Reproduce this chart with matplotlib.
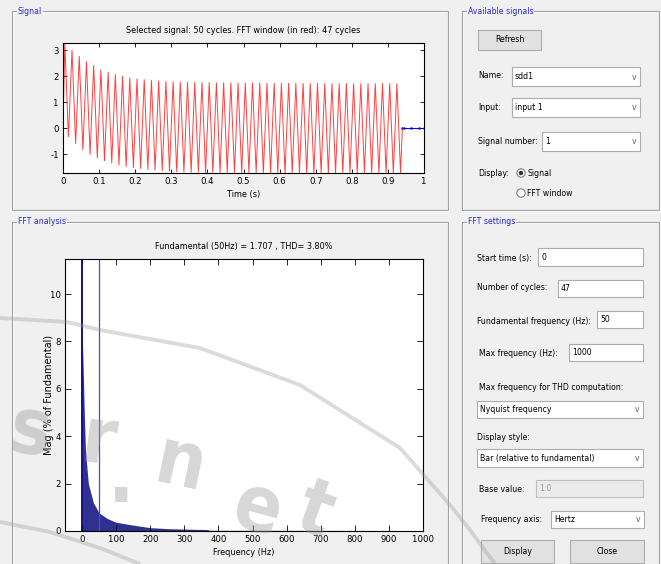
import matplotlib
matplotlib.use('Agg')
import matplotlib.pyplot as plt
import matplotlib.font_manager as fm
import numpy as np
from matplotlib.patches import Rectangle, Circle

# ---------------- data ----------------
sig_peaks = [3.27, 2.99, 2.76, 2.55, 2.40, 2.24, 2.14, 2.06, 1.99, 1.93,
             1.89, 1.86, 1.83, 1.81, 1.79, 1.78, 1.77, 1.76, 1.76, 1.75,
             1.75, 1.74, 1.74, 1.74, 1.73, 1.73, 1.73, 1.73, 1.72, 1.72,
             1.72, 1.72, 1.72, 1.72, 1.71, 1.71, 1.71, 1.71, 1.71, 1.71,
             1.71, 1.71, 1.71, 1.71, 1.71, 1.71, 1.71]
sig_troughs = [-0.33, -0.60, -0.84, -1.02, -1.15, -1.26, -1.35, -1.42, -1.48, -1.52,
               -1.56, -1.59, -1.62, -1.64, -1.66, -1.68, -1.69, -1.70, -1.70, -1.71,
               -1.71, -1.72, -1.72, -1.72, -1.72, -1.72, -1.73, -1.73, -1.73, -1.73,
               -1.73, -1.73, -1.73, -1.73, -1.73, -1.73, -1.73, -1.73, -1.73, -1.73,
               -1.73, -1.73, -1.73, -1.73, -1.73, -1.73, -1.72]
sig_start = 0.0
tail_t = [0.94, 0.945, 0.965, 0.985, 1.0]
tail_v = [0.0, 0.0, 0.0, 0.0, 0.0]
n_cycles = 47
f0 = 50.0

dc_value = 60.0
fund_value = 100.0
harm_freq = [1.06, 3.0, 6.0, 10.0, 18.5, 33.0, 50.0, 75.0, 100.0, 140.0, 200.0, 250.0, 300.0, 370.0, 372.0, 1000.0]
harm_mag = [8.0, 7.0, 5.3, 3.4, 2.0, 1.2, 0.76, 0.52, 0.37, 0.27, 0.14, 0.10, 0.08, 0.06, 0.03, 0.02]

sig_xticks = [0, 0.1, 0.2, 0.3, 0.4, 0.5, 0.6, 0.7, 0.8, 0.9, 1]
sig_yticks = [-1, 0, 1, 2, 3]
fft_xticks = [0, 100, 200, 300, 400, 500, 600, 700, 800, 900, 1000]
fft_yticks = [0, 2, 4, 6, 8, 10]

sig_title = 'Selected signal: 50 cycles. FFT window (in red): 47 cycles'
fft_title = 'Fundamental (50Hz) = 1.707 , THD= 3.80%'

# ---------------- font choice: a narrow face if one is installed ----------------
narrow = None
for f in fm.fontManager.ttflist:
    fn = f.fname.lower()
    if ('narrow' in fn or 'condensed' in fn) and 'bold' not in fn and 'italic' not in fn \
            and 'oblique' not in fn and 'light' not in fn:
        narrow = f
        break
if narrow is not None:
    plt.rcParams['font.family'] = [narrow.name, 'DejaVu Sans']
    plt.rcParams['font.stretch'] = narrow.stretch
    FS, FS_GUI, FS_TICK = 6.5, 6.2, 6.8
else:
    plt.rcParams['font.family'] = ['Liberation Sans', 'DejaVu Sans']
    FS, FS_GUI, FS_TICK = 5.8, 5.6, 6.2

# ---------------- figure ----------------
W, H = 661, 564
BG = '#F0F0F0'
fig = plt.figure(figsize=(W / 100, H / 100), dpi=100)
fig.patch.set_facecolor(BG)

gui = fig.add_axes([0, 0, 1, 1])
gui.set_xlim(0, W)
gui.set_ylim(H, 0)
gui.axis('off')
gui.set_zorder(0)


def rect_for(l, t, r, b):
    return [l / W, 1 - b / H, (r - l) / W, (b - t) / H]


def panel(x0, y0, x1, y1, title):
    gui.add_patch(Rectangle((x0 + 1, y0 + 1), x1 - x0, y1 - y0, fill=False, ec='white', lw=0.8))
    gui.add_patch(Rectangle((x0, y0), x1 - x0, y1 - y0, fill=False, ec='#A0A0A0', lw=0.8))
    gui.text(x0 + 6, y0, title, fontsize=FS_GUI, color='#2828C8', va='center', ha='left',
             bbox=dict(fc=BG, ec='none', pad=0.6))


def label(x, y, s, size=None, color='black', ha='left'):
    gui.text(x, y, s, fontsize=size or FS_GUI, color=color, va='center', ha=ha)


def editbox(x0, y0, x1, y1, s, fc='white', ec='#ABADB3', tc='black'):
    gui.add_patch(Rectangle((x0, y0), x1 - x0, y1 - y0, fc=fc, ec=ec, lw=0.8))
    label(x0 + 3, (y0 + y1) / 2, s, color=tc)


def dropdown(x0, y0, x1, y1, s):
    editbox(x0, y0, x1, y1, s)
    label(x1 - 8, (y0 + y1) / 2 + 0.5, 'v', color='#606060')


def button(x0, y0, x1, y1, s):
    gui.add_patch(Rectangle((x0, y0), x1 - x0, y1 - y0, fc='#E1E1E1', ec='#ADADAD', lw=0.8))
    label((x0 + x1) / 2, (y0 + y1) / 2, s, ha='center')


def radio(x, y, s, selected):
    gui.add_patch(Circle((x, y), 4.2, fc='white', ec='#707070', lw=0.7))
    if selected:
        gui.add_patch(Circle((x, y), 2.2, fc='#303030', ec='none'))
    label(x + 6, y, s)


panel(12, 11, 448, 210, 'Signal')
panel(462, 11, 659, 210, 'Available signals')
panel(12, 222, 448, 575, 'FFT analysis')
panel(462, 222, 659, 575, 'FFT settings')

button(478, 30, 541, 50, 'Refresh')
label(478, 76, 'Name:')
dropdown(512, 67, 640, 86, 'sdd1')
label(478, 107, 'Input:')
dropdown(512, 98, 640, 117, 'input 1')
label(478, 141, 'Signal number:')
dropdown(542, 132, 640, 151, '1')
label(478, 173, 'Display:')
radio(521, 173, 'Signal', True)
radio(521, 193, 'FFT window', False)

label(477, 258, 'Start time (s):')
editbox(538, 248, 643, 266, '0')
label(477, 288, 'Number of cycles:')
editbox(558, 280, 643, 297, '47')
label(477, 321, 'Fundamental frequency (Hz):')
editbox(597, 311, 643, 328, '50')
label(479, 353, 'Max frequency (Hz):')
editbox(569, 344, 643, 361, '1000')
label(479, 388, 'Max frequency for THD computation:')
dropdown(477, 401, 643, 418, 'Nyquist frequency')
label(477, 438, 'Display style:')
dropdown(477, 449, 643, 467, 'Bar (relative to fundamental)')
label(479, 489, 'Base value:')
editbox(536, 480, 643, 497, '1.0', fc='#EBEBEB', ec='#BFBFBF', tc='#9A9A9A')
label(481, 520, 'Frequency axis:')
dropdown(551, 511, 644, 528, 'Hertz')
button(481, 540, 554, 563, 'Display')
button(570, 540, 644, 563, 'Close')

# ---------------- signal axes ----------------
sax = fig.add_axes(rect_for(63, 43, 424, 173))
sax.set_zorder(2)
sax.set_facecolor('white')
period = 1.0 / f0
t_pts = [0.0]
v_pts = [sig_start]
for k in range(n_cycles):
    t_pts += [period * k + period / 4, period * k + 3 * period / 4]
    v_pts += [sig_peaks[k], sig_troughs[k]]
t_pts.append(n_cycles * period)
v_pts.append(0.0)
sax.plot(tail_t, tail_v, color='#0000FF', lw=0.8, marker='.', markersize=1.5)
sax.plot(t_pts, v_pts, color='#FF0000', lw=0.7, alpha=0.75)
sax.set_xlim(0, 1)
sax.set_ylim(-1.73, 3.27)
sax.set_xticks(sig_xticks)
sax.set_xticklabels(['%g' % v for v in sig_xticks])
sax.set_yticks(sig_yticks)
sax.set_yticklabels(['%g' % v for v in sig_yticks])
sax.tick_params(direction='in', top=True, right=True, length=3, width=0.6, labelsize=FS_TICK, pad=3)
sax.set_title(sig_title, fontsize=FS, pad=7)
sax.set_xlabel('Time (s)', fontsize=FS, labelpad=3)
for sp in sax.spines.values():
    sp.set_linewidth(0.8)

# ---------------- FFT axes ----------------
fax = fig.add_axes(rect_for(65, 259, 423, 531))
fax.set_zorder(2)
fax.set_facecolor('white')
fax.fill_between(harm_freq, harm_mag, 0, color='#2E3192', lw=0)
fax.vlines([0], 0, [dc_value], color='#000080', lw=1.3)
fax.vlines([f0], 0, [fund_value], color='#4B4BBE', lw=0.9)
fax.set_xlim(-50, 1000)
fax.set_ylim(0, 11.48)
fax.set_xticks(fft_xticks)
fax.set_xticklabels(['%g' % v for v in fft_xticks])
fax.set_yticks(fft_yticks)
fax.set_yticklabels(['%g' % v for v in fft_yticks])
fax.tick_params(direction='in', top=True, right=True, length=4, width=0.6, labelsize=FS_TICK, pad=3)
fax.set_title(fft_title, fontsize=FS, pad=7)
fax.set_xlabel('Frequency (Hz)', fontsize=FS, labelpad=3)
fax.set_ylabel('Mag (% of Fundamental)', fontsize=7, family=['DejaVu Sans'], stretch='normal',
               labelpad=-3)
for sp in fax.spines.values():
    sp.set_linewidth(0.8)

# ---------------- watermark overlay ----------------
wm = fig.add_axes([0, 0, 1, 1])
wm.set_xlim(0, W)
wm.set_ylim(H, 0)
wm.axis('off')
wm.patch.set_alpha(0)
wm.set_zorder(5)
WMC = '#9A9A9A'
arc1_x = [0, 67, 100, 200, 300, 400, 450, 470, 495]
arc1_y = [318, 322, 330, 348, 385, 448, 505, 530, 564]
wm.plot(arc1_x, arc1_y, color=WMC, alpha=0.35, lw=2.8, solid_capstyle='butt')
arc2_x = [0, 50, 100, 140]
arc2_y = [522, 532, 548, 564]
wm.plot(arc2_x, arc2_y, color=WMC, alpha=0.35, lw=2.8, solid_capstyle='butt')
for ch, x, y, rot in [('s', 30, 432, -8), ('r', 98, 442, -8), ('.', 121, 480, 0),
                      ('n', 180, 465, -12), ('e', 258, 510, -15), ('t', 314, 512, -20)]:
    wm.text(x, y, ch, fontsize=56, color=WMC, alpha=0.4, ha='center', va='center',
            rotation=rot, fontweight='bold')

fig.savefig('out.png', dpi=100, facecolor=BG)
